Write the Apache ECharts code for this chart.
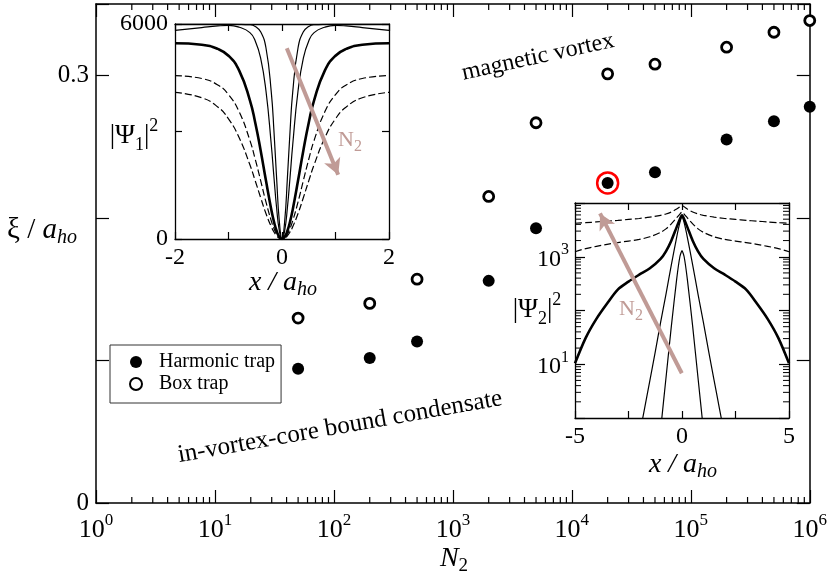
<!DOCTYPE html>
<html>
<head>
<meta charset="utf-8">
<script src="https://cdn.jsdelivr.net/npm/echarts@6/dist/echarts.min.js"></script>
<style>html,body{margin:0;padding:0;background:#fff}#c{width:830px;height:578px}</style>
</head>
<body>
<div id="c"></div>
<script>
// ---------------- main panel data ----------------
const N2 = [50, 200, 500, 2000, 5000, 2e4, 5e4, 2e5, 5e5, 1e6];
const xiHarmonic = [0.0941, 0.1017, 0.1132, 0.1558, 0.1927, 0.2245, 0.2320, 0.2550, 0.2678, 0.2780];
const xiBox = [0.1297, 0.1400, 0.1570, 0.2150, 0.2667, 0.3010, 0.3078, 0.3197, 0.3302, 0.3384];
const highlightN2 = [2e4];
const highlightXi = [0.2245];
const mainYLabelled = [0, 0.3];
const minorMult = [2, 3, 4, 5, 6, 7, 8, 9];
const mainDecades = [1, 10, 100, 1000, 1e4, 1e5];

// ---------------- inset 1 : |Psi1|^2 vs x ----------------
const x1 = [-2, -1.5, -1.2, -1, -0.8, -0.6, -0.5, -0.4, -0.3, -0.2, -0.15, -0.1, -0.05, 0, 0.05, 0.1, 0.15, 0.2, 0.3, 0.4, 0.5, 0.6, 0.8, 1, 1.2, 1.5, 2];
const psi1ThinInner = [5995,5995,5995,5995,5993,5980,5933,5784,5337,4093,3000,1678,491,0,491,1678,3000,4093,5337,5784,5933,5980,5993,5995,5995,5995,5995];
const psi1ThinOuter = [5820,5900,5945,5960,5910,5760,5528,5056,4137,2625,1716,859,232,0,232,859,1716,2625,4137,5056,5528,5760,5910,5960,5945,5900,5820];
const psi1Thick = [5463,5422,5305,5115,4700,3870,3244,2478,1630,819,482,222,57,0,57,222,482,819,1630,2478,3244,3870,4700,5115,5305,5422,5463];
const psi1DashA = [4562,4479,4300,4030,3548,2752,2225,1637,1034,505,293,133,34,0,34,133,293,505,1034,1637,2225,2752,3548,4030,4300,4479,4562];
const psi1DashB = [4094,3942,3684,3354,2825,2070,1623,1158,711,339,195,88,22,0,22,88,195,339,711,1158,1623,2070,2825,3354,3684,3942,4094];
const arrow1 = [[0.09, 5320], [1.05, 1790]];
const inset1XLabelled = [-2, 0, 2];
const inset1YLabelled = [0, 6000];

// ---------------- inset 2 : |Psi2|^2 vs x (log) ----------------
const x2 = [-5, -4.5, -4, -3.5, -3, -2.5, -2, -1.5, -1, -0.75, -0.5, -0.25, -0.1, 0, 0.1, 0.25, 0.5, 0.75, 1, 1.5, 2, 2.5, 3, 3.5, 4, 4.5, 5];
const psi2Thick = [10.4,31,70,135,245,345,463,610,910,1260,1990,3560,5000,5900,5000,3560,1990,1260,910,610,463,345,245,135,70,31,10.4];
const psi2DashUpper = [4200,4300,4450,4600,4750,4950,5150,5450,5900,6250,6800,7700,8500,9000,8500,7700,6800,6250,5900,5450,5150,4950,4750,4600,4450,4300,4200];
const psi2DashLower = [1240,1420,1560,1700,1830,1960,2100,2350,2850,3300,4100,5300,6200,6800,6200,5300,4100,3300,2850,2350,2100,1960,1830,1700,1560,1420,1240];
const xThinWide = [-2, -1.75, -1.5, -1.25, -1, -0.75, -0.5, -0.25, -0.1, 0, 0.1, 0.25, 0.5, 0.75, 1, 1.25, 1.5, 1.75, 2];
const psi2ThinWide = [0.45,1.5,5,17,60,200,700,2300,4300,5500,4300,2300,700,200,60,17,5,1.5,0.45];
const xThinNarrow = [-1, -0.75, -0.5, -0.25, -0.1, 0, 0.1, 0.25, 0.5, 0.75, 1];
const psi2ThinNarrow = [0.6,5.5,50,380,1000,1300,1000,380,50,5.5,0.6];
const arrow2 = [[-0.01, 6.8], [-3.83, 6400]];
const inset2XLabelled = [-5, 0, 5];
const inset2YLabelledExp = [1, 3];
const inset2Decades = [1, 10, 100, 1000];

// ---------------- styling helpers ----------------
const FONT = '"Liberation Serif","Times New Roman",serif';
const BLACK = '#000';
const ROSE = '#c09b96';
function rs(size, extra) {
  return Object.assign({fontFamily: FONT, fontSize: size, color: BLACK, fill: BLACK}, extra || {});
}
const zip = (xs, ys) => xs.map((x, i) => [x, ys[i]]);
const near = (a, b) => Math.abs(a - b) < 1e-9;

function axisLine(w) { return {show: true, onZero: false, lineStyle: {color: BLACK, width: w}}; }
function axisTick(len) { return {show: true, inside: true, length: len, lineStyle: {color: BLACK, width: 1.2}}; }
const noLabel = {show: false};
const noSplit = {show: false};

const powRich = (b, s, lh) => ({
  b: rs(b, {lineHeight: lh, verticalAlign: 'bottom'}),
  s: rs(s, {verticalAlign: 'top'})
});

const minorMain = [];
mainDecades.forEach(d => minorMult.forEach(m => minorMain.push(m * d)));
const minorInset2 = [];
inset2Decades.forEach(d => minorMult.forEach(m => minorInset2.push(m * d)));

function titleRich(base, sub, lh) {
  return {
    r: rs(base, {lineHeight: lh, verticalAlign: 'top'}),
    i: rs(base, {fontStyle: 'italic', lineHeight: lh, verticalAlign: 'top'}),
    s: rs(sub, {fontStyle: 'italic', verticalAlign: 'bottom'}),
    u: rs(sub, {verticalAlign: 'bottom'})
  };
}
function psiRich(base, small, lh, col) {
  const c = col || BLACK;
  return {
    b: rs(base, {lineHeight: lh, verticalAlign: 'middle', color: c, fill: c}),
    s: rs(small, {verticalAlign: 'bottom', color: c, fill: c}),
    p: rs(small, {verticalAlign: 'top', color: c, fill: c})
  };
}
function txt(x, y, text, rich, rot) {
  return {type: 'text', x: x, y: y, rotation: rot || 0, z: 100, silent: true,
    style: {text: text, rich: rich, fill: BLACK, fontFamily: FONT, fontSize: 20,
      align: 'center', verticalAlign: 'middle', textAlign: 'center', textVerticalAlign: 'middle'}};
}
function arrowMark(pts) {
  return {silent: true, symbol: ['none', 'arrow'], symbolSize: [13, 16], label: {show: false},
    lineStyle: {color: ROSE, width: 4, type: 'solid'},
    itemStyle: {color: ROSE},
    data: [[{coord: pts[0]}, {coord: pts[1]}]]};
}

const chart = echarts.init(document.getElementById('c'), null, {renderer: 'canvas'});

const option = {
  animation: false,
  backgroundColor: '#fff',
  tooltip: {show: false},
  grid: [
    {left: 96, top: 4, right: 18, bottom: 75, show: false},
    {left: 175, top: 24, width: 214, height: 215, show: true, backgroundColor: '#fff', borderWidth: 0},
    {left: 575, top: 203, width: 214, height: 215, show: true, backgroundColor: '#fff', borderWidth: 0}
  ],
  xAxis: [
    {gridIndex: 0, type: 'log', logBase: 10, min: 1, max: 1e6, splitNumber: 6, position: 'bottom',
      axisLine: axisLine(1.5), axisTick: axisTick(13), splitLine: noSplit,
      axisLabel: {show: true, margin: 9, showMinLabel: true, showMaxLabel: true,
        formatter: v => '{b|10}{s|' + Math.round(Math.log10(v)) + '}', rich: powRich(26, 17, 31)}},
    {gridIndex: 0, type: 'log', logBase: 10, min: 1, max: 1e6, splitNumber: 6, position: 'top',
      axisLine: axisLine(1.5), axisTick: axisTick(13), splitLine: noSplit, axisLabel: noLabel},
    {gridIndex: 1, type: 'value', min: -2, max: 2, interval: 1, position: 'bottom',
      axisLine: axisLine(1.3), axisTick: axisTick(7), splitLine: noSplit,
      axisLabel: {show: true, margin: 7, color: BLACK, fontFamily: FONT, fontSize: 24,
        formatter: v => inset1XLabelled.some(t => near(t, v)) ? String(v) : ''}},
    {gridIndex: 1, type: 'value', min: -2, max: 2, interval: 1, position: 'top',
      axisLine: axisLine(1.3), axisTick: axisTick(7), splitLine: noSplit, axisLabel: noLabel},
    {gridIndex: 2, type: 'value', min: -5, max: 5, interval: 2.5, position: 'bottom',
      axisLine: axisLine(1.3), axisTick: axisTick(7), splitLine: noSplit,
      axisLabel: {show: true, margin: 7, color: BLACK, fontFamily: FONT, fontSize: 24,
        formatter: v => inset2XLabelled.some(t => near(t, v)) ? String(v) : ''}},
    {gridIndex: 2, type: 'value', min: -5, max: 5, interval: 2.5, position: 'top',
      axisLine: axisLine(1.3), axisTick: axisTick(7), splitLine: noSplit, axisLabel: noLabel}
  ],
  yAxis: [
    {gridIndex: 0, type: 'value', min: 0, max: 0.35, interval: 0.1, position: 'left',
      axisLine: axisLine(1.5), axisTick: axisTick(13), splitLine: noSplit,
      axisLabel: {show: true, margin: 7, color: BLACK, fontFamily: FONT, fontSize: 25,
        formatter: v => { const t = mainYLabelled.find(t => near(t, v)); return t === undefined ? '' : String(t); }}},
    {gridIndex: 0, type: 'value', min: 0, max: 0.35, interval: 0.1, position: 'right',
      axisLine: axisLine(1.5), axisTick: axisTick(13), splitLine: noSplit, axisLabel: noLabel},
    {gridIndex: 1, type: 'value', min: 0, max: 6000, interval: 3000, position: 'left',
      axisLine: axisLine(1.3), axisTick: axisTick(7), splitLine: noSplit,
      axisLabel: {show: true, margin: 7, color: BLACK, fontFamily: FONT, fontSize: 24,
        formatter: v => inset1YLabelled.some(t => near(t, v)) ? String(v) : ''}},
    {gridIndex: 1, type: 'value', min: 0, max: 6000, interval: 3000, position: 'right',
      axisLine: axisLine(1.3), axisTick: axisTick(7), splitLine: noSplit, axisLabel: noLabel},
    {gridIndex: 2, type: 'log', logBase: 10, min: 1, max: 1e4, splitNumber: 4, position: 'left',
      axisLine: axisLine(1.3), axisTick: axisTick(10), splitLine: noSplit,
      axisLabel: {show: true, margin: 6,
        formatter: v => { const e = Math.round(Math.log10(v)); return inset2YLabelledExp.includes(e) ? '{b|10}{s|' + e + '}' : ''; },
        rich: powRich(24, 16, 29)}},
    {gridIndex: 2, type: 'log', logBase: 10, min: 1, max: 1e4, splitNumber: 4, position: 'right',
      axisLine: axisLine(1.3), axisTick: axisTick(10), splitLine: noSplit, axisLabel: noLabel}
  ],
  legend: {
    show: true, data: ['Harmonic trap', 'Box trap'], orient: 'vertical', left: 110, top: 345,
    itemWidth: 36, itemHeight: 12, itemGap: 2, padding: [7, 6, 9, 19],
    borderColor: '#333', borderWidth: 1, borderRadius: 0, backgroundColor: '#fff',
    selectedMode: false,
    textStyle: {fontFamily: FONT, fontSize: 20, color: BLACK, lineHeight: 20}
  },
  series: [
    {name: 'Harmonic trap', type: 'scatter', xAxisIndex: 0, yAxisIndex: 0, symbol: 'circle', symbolSize: 12,
      itemStyle: {color: BLACK, opacity: 1}, data: zip(N2, xiHarmonic), z: 5},
    {name: 'Box trap', type: 'scatter', xAxisIndex: 0, yAxisIndex: 0, symbol: 'circle', symbolSize: 10,
      itemStyle: {color: '#fff', borderColor: BLACK, borderWidth: 2.8, opacity: 1}, data: zip(N2, xiBox), z: 5},
    {name: 'highlight', type: 'scatter', xAxisIndex: 0, yAxisIndex: 0, symbol: 'circle', symbolSize: 21,
      itemStyle: {color: 'rgba(0,0,0,0)', borderColor: '#ff0000', borderWidth: 2.5, opacity: 1}, data: zip(highlightN2, highlightXi), z: 6, silent: true},
    {name: 'mainMinor', type: 'custom', xAxisIndex: 0, yAxisIndex: 0, silent: true,
      data: minorMain.map(v => [v, 0]),
      renderItem: (p, api) => {
        const v = api.value(0);
        const b = api.coord([v, 0]);
        const t = api.coord([v, 0.35]);
        const st = {stroke: BLACK, lineWidth: 1.2};
        return {type: 'group', children: [
          {type: 'line', shape: {x1: b[0], y1: b[1], x2: b[0], y2: b[1] - 6}, style: st},
          {type: 'line', shape: {x1: t[0], y1: t[1], x2: t[0], y2: t[1] + 6}, style: st}
        ]};
      }},
    // inset 1
    {name: 'p1a', type: 'line', xAxisIndex: 2, yAxisIndex: 2, symbol: 'none', smooth: true, data: zip(x1, psi1ThinInner),
      lineStyle: {color: BLACK, width: 1.2}, silent: true},
    {name: 'p1b', type: 'line', xAxisIndex: 2, yAxisIndex: 2, symbol: 'none', smooth: true, data: zip(x1, psi1ThinOuter),
      lineStyle: {color: BLACK, width: 1.2}, silent: true},
    {name: 'p1c', type: 'line', xAxisIndex: 2, yAxisIndex: 2, symbol: 'none', smooth: true, data: zip(x1, psi1Thick),
      lineStyle: {color: BLACK, width: 2.6}, silent: true, markLine: arrowMark(arrow1)},
    {name: 'p1d', type: 'line', xAxisIndex: 2, yAxisIndex: 2, symbol: 'none', smooth: true, data: zip(x1, psi1DashA),
      lineStyle: {color: BLACK, width: 1.2, type: [7, 3]}, silent: true},
    {name: 'p1e', type: 'line', xAxisIndex: 2, yAxisIndex: 2, symbol: 'none', smooth: true, data: zip(x1, psi1DashB),
      lineStyle: {color: BLACK, width: 1.2, type: [7, 3]}, silent: true},
    // inset 2
    {name: 'p2a', type: 'line', xAxisIndex: 4, yAxisIndex: 4, symbol: 'none', smooth: 0.3, data: zip(x2, psi2Thick),
      lineStyle: {color: BLACK, width: 2.6}, silent: true, markLine: arrowMark(arrow2)},
    {name: 'p2b', type: 'line', xAxisIndex: 4, yAxisIndex: 4, symbol: 'none', smooth: 0.3, data: zip(x2, psi2DashUpper),
      lineStyle: {color: BLACK, width: 1.2, type: [7, 3]}, silent: true},
    {name: 'p2c', type: 'line', xAxisIndex: 4, yAxisIndex: 4, symbol: 'none', smooth: 0.3, data: zip(x2, psi2DashLower),
      lineStyle: {color: BLACK, width: 1.2, type: [7, 3]}, silent: true},
    {name: 'p2d', type: 'line', xAxisIndex: 4, yAxisIndex: 4, symbol: 'none', smooth: 0.2, data: zip(xThinWide, psi2ThinWide),
      lineStyle: {color: BLACK, width: 1.2}, silent: true},
    {name: 'p2e', type: 'line', xAxisIndex: 4, yAxisIndex: 4, symbol: 'none', smooth: 0.2, data: zip(xThinNarrow, psi2ThinNarrow),
      lineStyle: {color: BLACK, width: 1.2}, silent: true},
    {name: 'inset2Minor', type: 'custom', xAxisIndex: 4, yAxisIndex: 4, silent: true,
      data: minorInset2.map(v => [0, v]),
      renderItem: (p, api) => {
        const v = api.value(1);
        const l = api.coord([-5, v]);
        const r = api.coord([5, v]);
        const st = {stroke: BLACK, lineWidth: 1};
        return {type: 'group', children: [
          {type: 'line', shape: {x1: l[0], y1: l[1], x2: l[0] + 6, y2: l[1]}, style: st},
          {type: 'line', shape: {x1: r[0], y1: r[1], x2: r[0] - 6, y2: r[1]}, style: st}
        ]};
      }}
  ],
  graphic: [
    txt(454, 560, '{i|N}{u|2}', titleRich(28, 19, 31)),
    txt(42, 232, '{r|ξ / }{i|a}{s|ho}', titleRich(29, 20, 32)),
    txt(283, 284, '{i|x / a}{s|ho}', titleRich(28, 20, 31)),
    txt(683, 466, '{i|x / a}{s|ho}', titleRich(28, 20, 31)),
    txt(134, 136, '{b||Ψ}{s|1}{b||}{p|2}', psiRich(27, 18, 37)),
    txt(537, 310, '{b||Ψ}{s|2}{b||}{p|2}', psiRich(27, 18, 37)),
    txt(350, 140, '{b|N}{s|2}', psiRich(22, 16, 29, ROSE)),
    txt(631, 309, '{b|N}{s|2}', psiRich(22, 16, 29, ROSE)),
    {type: 'text', x: 538, y: 57, rotation: 0.215, z: 100, silent: true,
      style: {text: 'magnetic vortex', fill: BLACK, fontFamily: FONT, fontSize: 24,
        align: 'center', verticalAlign: 'middle', textAlign: 'center', textVerticalAlign: 'middle'}},
    {type: 'text', x: 340, y: 427, rotation: 0.175, z: 100, silent: true,
      style: {text: 'in-vortex-core bound condensate', fill: BLACK, fontFamily: FONT, fontSize: 25,
        align: 'center', verticalAlign: 'middle', textAlign: 'center', textVerticalAlign: 'middle'}}
  ]
};
chart.setOption(option);
</script>
</body>
</html>
